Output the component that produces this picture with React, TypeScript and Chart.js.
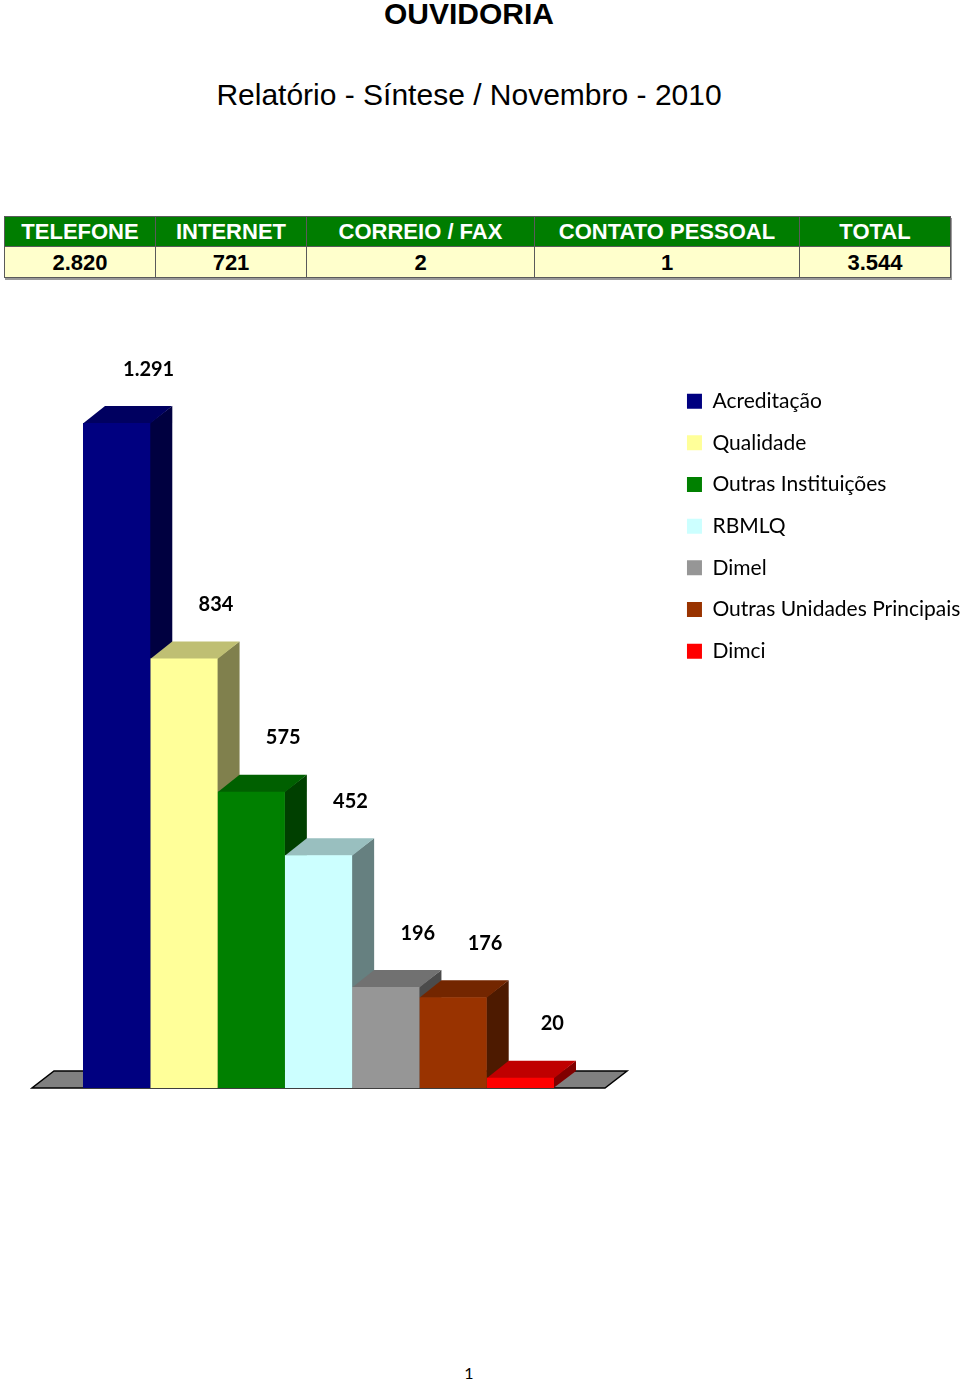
import React, { useEffect, useRef } from 'react';
import { Chart, registerables } from 'chart.js';

Chart.register(...registerables);

// ---- data ----
const pageTitle = 'OUVIDORIA';
const pageSubtitle = 'Relatório - Síntese / Novembro - 2010';
const channelHeaders = ['TELEFONE', 'INTERNET', 'CORREIO / FAX', 'CONTATO PESSOAL', 'TOTAL'];
const channelCounts = [2820, 721, 2, 1, 3544];
const seriesNames = [
  'Acreditação',
  'Qualidade',
  'Outras Instituições',
  'RBMLQ',
  'Dimel',
  'Outras Unidades Principais',
  'Dimci',
];
const seriesValues = [1291, 834, 575, 452, 196, 176, 20];
const seriesColors = ['#000080', '#FFFF99', '#008000', '#CCFFFF', '#969696', '#993300', '#FF0000'];
const categoryLabels = [''];
const pageNumber = '1';

// ---- style ----
const DEPTH_X = 22;
const DEPTH_Y = 17;
const LABEL_DX = 32;
const LABEL_DY = 37;
const columnWidths = [151, 151, 228, 265, 151];

const fmt = (n: number) => String(n).replace(/\B(?=(\d{3})+(?!\d))/g, '.');

function shade(hex: string, f: number) {
  const n = parseInt(hex.slice(1), 16);
  const r = Math.round(((n >> 16) & 255) * f);
  const g = Math.round(((n >> 8) & 255) * f);
  const b = Math.round((n & 255) * f);
  return `rgb(${r},${g},${b})`;
}

const bar3dPlugin = {
  id: 'bar3d',
  beforeDatasetsDraw(chart: any) {
    const { ctx, chartArea } = chart;
    const y0 = chart.scales.y.getPixelForValue(0);
    ctx.save();
    // floor
    ctx.beginPath();
    ctx.moveTo(chartArea.left, y0);
    ctx.lineTo(chartArea.right, y0);
    ctx.lineTo(chartArea.right + DEPTH_X, y0 - DEPTH_Y);
    ctx.lineTo(chartArea.left + DEPTH_X, y0 - DEPTH_Y);
    ctx.closePath();
    ctx.fillStyle = '#808080';
    ctx.fill();
    ctx.lineWidth = 1.5;
    ctx.strokeStyle = '#000';
    ctx.stroke();
    // side and top faces
    chart.data.datasets.forEach((ds: any, i: number) => {
      const meta = chart.getDatasetMeta(i);
      meta.data.forEach((el: any) => {
        const { x, y, width, base } = el.getProps(['x', 'y', 'width', 'base'], true);
        const l = x - width / 2;
        const r = x + width / 2;
        const color = ds.backgroundColor as string;
        ctx.beginPath();
        ctx.moveTo(r - 0.5, y);
        ctx.lineTo(r + DEPTH_X, y - DEPTH_Y);
        ctx.lineTo(r + DEPTH_X, base - DEPTH_Y);
        ctx.lineTo(r - 0.5, base);
        ctx.closePath();
        ctx.fillStyle = shade(color, 0.5);
        ctx.fill();
        ctx.beginPath();
        ctx.moveTo(l, y + 0.5);
        ctx.lineTo(l + DEPTH_X, y - DEPTH_Y);
        ctx.lineTo(r + DEPTH_X, y - DEPTH_Y);
        ctx.lineTo(r, y + 0.5);
        ctx.closePath();
        ctx.fillStyle = shade(color, 0.75);
        ctx.fill();
      });
    });
    ctx.restore();
  },
  afterDatasetsDraw(chart: any) {
    const { ctx } = chart;
    ctx.save();
    ctx.font = 'bold 20px Lato, "Open Sans", sans-serif';
    ctx.fillStyle = '#000';
    ctx.textAlign = 'center';
    ctx.textBaseline = 'middle';
    chart.data.datasets.forEach((ds: any, i: number) => {
      const meta = chart.getDatasetMeta(i);
      meta.data.forEach((el: any, j: number) => {
        const { x, y } = el.getProps(['x', 'y'], true);
        ctx.fillText(fmt(ds.data[j]), x + LABEL_DX, y - DEPTH_Y - LABEL_DY);
      });
    });
    ctx.restore();
  },
};

function BarChart() {
  const ref = useRef<HTMLCanvasElement>(null);
  useEffect(() => {
    if (!ref.current) return;
    const chart = new Chart(ref.current, {
      type: 'bar',
      data: {
        labels: categoryLabels,
        datasets: seriesNames.map((name, i) => ({
          label: name,
          data: [seriesValues[i]],
          backgroundColor: seriesColors[i],
          borderWidth: 0,
          categoryPercentage: 0.822,
          barPercentage: 1,
        })),
      },
      options: {
        animation: false,
        responsive: false,
        devicePixelRatio: 1,
        layout: { padding: { left: 32, right: 0, top: 40, bottom: 12 } },
        scales: {
          x: { display: false, offset: true },
          y: {
            position: 'right',
            min: 0,
            max: 1394,
            display: true,
            ticks: { display: false },
            grid: { display: false },
            border: { display: false },
            afterFit: (s: any) => {
              s.width = 61.3;
            },
          },
        },
        plugins: {
          legend: {
            position: 'right',
            align: 'start',
            maxWidth: 293.7,
            labels: {
              boxWidth: 15,
              boxHeight: 15,
              padding: 20.67,
              color: '#000',
              font: { family: 'Lato, "Open Sans", sans-serif', size: 21 },
            },
          },
          tooltip: { enabled: false },
        },
      } as any,
      plugins: [bar3dPlugin],
    });
    return () => chart.destroy();
  }, []);
  return (
    <canvas
      ref={ref}
      width={960}
      height={770}
      style={{ position: 'absolute', left: 0, top: 330, width: 960, height: 770 }}
    />
  );
}

export default function App() {
  const arial = '"Liberation Sans", Arial, Helvetica, sans-serif';
  const cell: React.CSSProperties = {
    border: '1px solid #5a5a5a',
    padding: 0,
    paddingTop: 1,
    textAlign: 'center',
    fontFamily: arial,
    fontWeight: 'bold',
    fontSize: 22,
    lineHeight: '24px',
    overflow: 'hidden',
    whiteSpace: 'nowrap',
  };
  return (
    <div style={{ position: 'absolute', left: 0, top: 0, width: 960, height: 1381, background: '#fff', overflow: 'hidden' }}>
      <div
        style={{
          position: 'absolute', left: 0, top: -3, width: 938, height: 34, lineHeight: '34px',
          textAlign: 'center', fontFamily: arial, fontWeight: 'bold', fontSize: 30, color: '#000',
        }}
      >
        {pageTitle}
      </div>
      <div
        style={{
          position: 'absolute', left: 0, top: 78, width: 938, height: 34, lineHeight: '34px',
          textAlign: 'center', fontFamily: arial, fontSize: 30, color: '#000',
        }}
      >
        {pageSubtitle}
      </div>
      <table
        style={{
          position: 'absolute', left: 4, top: 216, width: 946, borderCollapse: 'collapse',
          tableLayout: 'fixed', boxShadow: '1px 2px 0 #9a9a9a',
        }}
      >
        <colgroup>
          {columnWidths.map((w, i) => (
            <col key={i} style={{ width: w }} />
          ))}
        </colgroup>
        <tbody>
          <tr style={{ height: 30 }}>
            {channelHeaders.map((h, i) => (
              <td key={i} style={{ ...cell, background: '#007d00', color: '#fff' }}>
                {h}
              </td>
            ))}
          </tr>
          <tr style={{ height: 31 }}>
            {channelCounts.map((v, i) => (
              <td key={i} style={{ ...cell, background: '#FFFFCC', color: '#000' }}>
                {fmt(v)}
              </td>
            ))}
          </tr>
        </tbody>
      </table>
      <BarChart />
      <div
        style={{
          position: 'absolute', left: 0, top: 1363, width: 938, height: 20, lineHeight: '20px',
          textAlign: 'center', fontFamily: 'Lato, "Open Sans", sans-serif', fontSize: 16, color: '#000',
        }}
      >
        {pageNumber}
      </div>
    </div>
  );
}
